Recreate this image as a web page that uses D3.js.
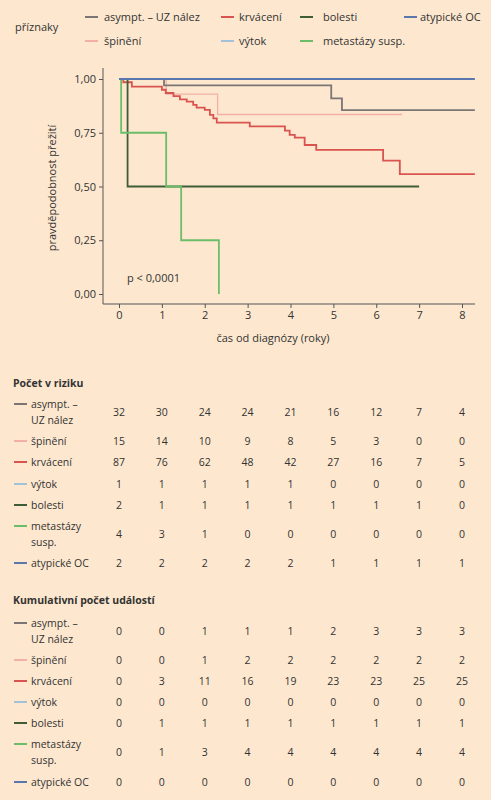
<!DOCTYPE html><html><head><meta charset="utf-8">
<script src="https://cdn.jsdelivr.net/npm/d3@7"></script>
<style>body{margin:0;background:#fde8cf}svg{font-family:"Open Sans",sans-serif}</style></head><body>
<svg id="c" width="491" height="800"></svg>
<script>
const groups=["asympt. – UZ nález","špinění","krvácení","výtok","bolesti","metastázy susp.","atypické OC"];
const tableLabels=[["asympt. –","UZ nález"],["špinění"],["krvácení"],["výtok"],["bolesti"],["metastázy","susp."],["atypické OC"]];
const colors=["#7b7674","#f4b0a6","#d9534f","#a3c2d8","#3e5c36","#6cbd6a","#5a78ad"];
const xTicks=[0,1,2,3,4,5,6,7,8];
const yTicks=[0,0.25,0.5,0.75,1];
// step curves: [time, survival]
const curves=[
 [[0,1],[1.05,0.97],[4.95,0.91],[5.2,0.855],[8.3,0.855]],
 [[0,1],[1.1,0.93],[2.3,0.835],[6.6,0.835]],
 [[0,1],[0.1,0.985],[0.3,0.965],[1.0,0.95],[1.09,0.935],[1.27,0.92],[1.42,0.905],[1.58,0.895],[1.73,0.88],[1.81,0.867],[2.0,0.856],[2.12,0.833],[2.2,0.817],[2.28,0.797],[3.05,0.78],[3.87,0.76],[3.98,0.74],[4.1,0.727],[4.33,0.693],[4.6,0.67],[6.16,0.62],[6.55,0.558],[8.3,0.558]],
 [[0,1],[4.5,1]],
 [[0,1],[0.2,0.5],[7.0,0.5]],
 [[0,1],[0.05,0.75],[1.1,0.5],[1.45,0.25],[2.33,0],[2.33,0]],
 [[0,1],[8.3,1]]
];
const atRisk=[[32,30,24,24,21,16,12,7,4],[15,14,10,9,8,5,3,0,0],[87,76,62,48,42,27,16,7,5],[1,1,1,1,1,0,0,0,0],[2,1,1,1,1,1,1,1,0],[4,3,1,0,0,0,0,0,0],[2,2,2,2,2,1,1,1,1]];
const cumEvents=[[0,0,1,1,1,2,3,3,3],[0,0,1,2,2,2,2,2,2],[0,3,11,16,19,23,23,25,25],[0,0,0,0,0,0,0,0,0],[0,1,1,1,1,1,1,1,1],[0,1,3,4,4,4,4,4,4],[0,0,0,0,0,0,0,0,0]];

const svg=d3.select("#c"),txt="#333";
const x=d3.scaleLinear().domain([0,8]).range([119,462]);
const y=d3.scaleLinear().domain([0,1]).range([294,79]);
// legend
svg.append("text").attr("x",15).attr("y",31).attr("font-size",11).attr("fill",txt).text("příznaky");
const legPos=[[85,104,17],[85,104,41],[221,239,17],[221,239,41],[300,323,17],[300,323,41],[404,420,17]];
groups.forEach((g,i)=>{const p=legPos[i];
 svg.append("line").attr("x1",p[0]).attr("x2",p[0]+13).attr("y1",p[2]).attr("y2",p[2]).attr("stroke",colors[i]).attr("stroke-width",2);
 svg.append("text").attr("x",p[1]).attr("y",p[2]+4).attr("font-size",11).attr("fill",txt).text(g);});
// axes
const ya=svg.append("g").attr("transform","translate(103,0)").call(d3.axisLeft(y).tickValues(yTicks).tickSize(4).tickFormat(d=>d3.format(".2f")(d).replace(".",",")));
const xa=svg.append("g").attr("transform","translate(0,304)").call(d3.axisBottom(x).tickValues(xTicks).tickSize(4));
[ya,xa].forEach(a=>{a.selectAll("text").attr("font-size",11).attr("fill",txt).attr("font-family","Open Sans");a.selectAll("line,path").attr("stroke","#555");});
ya.select(".domain").attr("d","M0,68V304");
xa.select(".domain").attr("d","M103,0H475");
svg.append("text").attr("transform","translate(56,188) rotate(-90)").attr("text-anchor","middle").attr("font-size",11).attr("fill",txt).text("pravděpodobnost přežití");
svg.append("text").attr("x",273).attr("y",342).attr("text-anchor","middle").attr("font-size",11).attr("fill",txt).text("čas od diagnózy (roky)");
svg.append("text").attr("x",127).attr("y",282).attr("font-size",11).attr("fill",txt).text("p < 0,0001");
const line=d3.line().x(d=>x(d[0])).y(d=>y(d[1])).curve(d3.curveStepAfter);
const order=[3,1,0,2,4,5,6];
order.forEach(i=>svg.append("path").attr("d",line(curves[i])).attr("fill","none").attr("stroke",colors[i]).attr("stroke-width",i==1?1.3:1.8));
// tables
function table(title,ty,rowsY,data){
 svg.append("text").attr("x",13).attr("y",ty).attr("font-size",10.5).attr("font-weight","bold").attr("fill",txt).text(title);
 data.forEach((r,i)=>{const cy=rowsY[i],lab=tableLabels[i];
  svg.append("line").attr("x1",14).attr("x2",27).attr("y1",lab.length>1?cy-8:cy).attr("y2",lab.length>1?cy-8:cy).attr("stroke",colors[i]).attr("stroke-width",2);
  lab.forEach((l,k)=>svg.append("text").attr("x",31).attr("y",cy+4+(lab.length>1?(k?8:-8):0)).attr("font-size",10.5).attr("fill",txt).text(l));
  r.forEach((v,j)=>svg.append("text").attr("x",x(xTicks[j])).attr("y",cy+4).attr("text-anchor","middle").attr("font-size",10.5).attr("fill",txt).text(v));});
}
table("Počet v riziku",387,[412,441,462,484,505,534,563],atRisk);
table("Kumulativní počet událostí",604,[631,660,681,702,723,752,782],cumEvents);
</script></body></html>
